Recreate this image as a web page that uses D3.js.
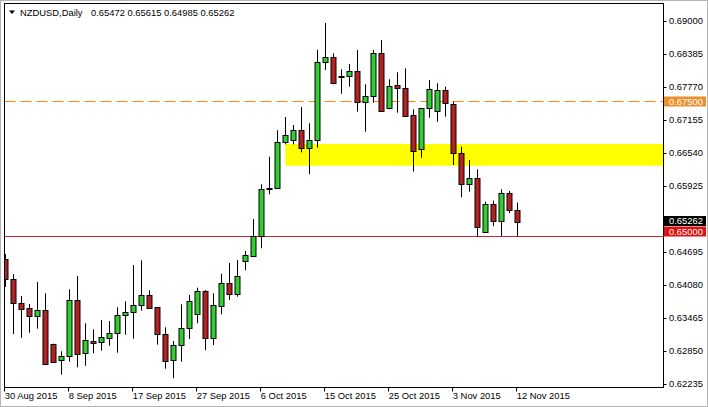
<!DOCTYPE html>
<html>
<head>
<meta charset="utf-8">
<script src="https://cdn.jsdelivr.net/npm/d3@7"></script>
<style>
  body { margin: 0; background: #fff; }
  svg { display: block; }
  text { font-family: "Liberation Sans", Arial, sans-serif; font-size: 9.4px; fill: #000; }
</style>
</head>
<body>
<script>
// NZDUSD daily bars, 30 Aug - 12 Nov 2015 (broker has Sunday bars)
var dates = [
  "2015-08-30","2015-08-31","2015-09-01","2015-09-02","2015-09-03","2015-09-04",
  "2015-09-06","2015-09-07","2015-09-08","2015-09-09","2015-09-10","2015-09-11",
  "2015-09-13","2015-09-14","2015-09-15","2015-09-16","2015-09-17","2015-09-18",
  "2015-09-20","2015-09-21","2015-09-22","2015-09-23","2015-09-24","2015-09-25",
  "2015-09-27","2015-09-28","2015-09-29","2015-09-30","2015-10-01","2015-10-02",
  "2015-10-04","2015-10-05","2015-10-06","2015-10-07","2015-10-08","2015-10-09",
  "2015-10-11","2015-10-12","2015-10-13","2015-10-14","2015-10-15","2015-10-16",
  "2015-10-18","2015-10-19","2015-10-20","2015-10-21","2015-10-22","2015-10-23",
  "2015-10-25","2015-10-26","2015-10-27","2015-10-28","2015-10-29","2015-10-30",
  "2015-11-01","2015-11-02","2015-11-03","2015-11-04","2015-11-05","2015-11-06",
  "2015-11-08","2015-11-09","2015-11-10","2015-11-11","2015-11-12"
];

var opens = [
  0.64559,0.64186,0.63739,0.63646,0.63508,0.63609,0.62975,0.62677,0.62751,0.63795,
  0.62807,0.63036,0.63012,0.63098,0.63180,0.63515,0.63571,0.63702,0.63888,0.63664,
  0.63161,0.62677,0.62962,0.63273,0.63534,0.63968,0.63087,0.63694,0.64117,0.63907,
  0.64533,0.64626,0.65000,0.65882,0.65882,0.66739,0.66777,0.66963,0.66628,0.66777,
  0.68230,0.68324,0.67969,0.67969,0.68063,0.67485,0.67608,0.68398,0.67384,0.67802,
  0.67746,0.67243,0.66609,0.67373,0.67317,0.67709,0.67448,0.66534,0.65957,0.66069,
  0.65062,0.65590,0.65278,0.65789,0.65472
];
var highs = [
  0.64658,0.64285,0.63875,0.63726,0.64136,0.63925,0.62986,0.62845,0.64000,0.64248,
  0.63366,0.63254,0.63428,0.63409,0.63664,0.63776,0.64453,0.64540,0.63981,0.63670,
  0.63292,0.63036,0.63720,0.63894,0.64030,0.63987,0.63925,0.64291,0.64490,0.64546,
  0.64714,0.65310,0.65957,0.66471,0.66963,0.67211,0.67062,0.67397,0.67094,0.68465,
  0.68963,0.68398,0.68100,0.68199,0.68460,0.67820,0.68460,0.68646,0.67914,0.68044,
  0.68119,0.67354,0.67380,0.67900,0.67839,0.67776,0.67496,0.66657,0.66410,0.66236,
  0.65632,0.65651,0.65864,0.65832,0.65615
];
var lows = [
  0.64043,0.63167,0.63098,0.63191,0.63266,0.62590,0.62626,0.62408,0.62651,0.62546,
  0.62576,0.62807,0.62856,0.62949,0.62818,0.63154,0.63079,0.63601,0.63640,0.62968,
  0.62520,0.62341,0.62651,0.63074,0.63366,0.62863,0.62962,0.63534,0.63801,0.63862,
  0.64354,0.64620,0.64764,0.65770,0.65869,0.66702,0.66702,0.66553,0.66143,0.66639,
  0.68087,0.67820,0.67645,0.67776,0.67310,0.66937,0.67477,0.67310,0.67354,0.67291,
  0.67217,0.66192,0.66452,0.67198,0.67123,0.67217,0.66316,0.65714,0.65819,0.64980,
  0.65062,0.65180,0.64993,0.65416,0.64985
];
var closes = [
  0.64186,0.63739,0.63638,0.63508,0.63609,0.62602,0.62651,0.62751,0.63795,0.62800,
  0.63055,0.62994,0.63105,0.63180,0.63515,0.63577,0.63702,0.63888,0.63646,0.63161,
  0.62658,0.62956,0.63273,0.63782,0.63968,0.63087,0.63707,0.64117,0.63907,0.64248,
  0.64639,0.64999,0.65869,0.65875,0.66739,0.66870,0.66963,0.66628,0.66777,0.68230,
  0.68335,0.67850,0.67960,0.68063,0.67485,0.67608,0.68398,0.67328,0.67794,0.67757,
  0.67230,0.66583,0.67373,0.67727,0.67709,0.67472,0.66534,0.65957,0.66069,0.65155,
  0.65590,0.65278,0.65789,0.65478,0.65262
];

var priceTicks = [0.69000,0.68385,0.67770,0.67155,0.66540,0.65925,0.64695,0.64080,0.63465,0.62850,0.62235];
var dateTickAt = ["2015-08-30","2015-09-08","2015-09-17","2015-09-27","2015-10-06","2015-10-15","2015-10-25","2015-11-03","2015-11-12"];
var dateTickLabels = ["30 Aug 2015","8 Sep 2015","17 Sep 2015","27 Sep 2015","6 Oct 2015","15 Oct 2015","25 Oct 2015","3 Nov 2015","12 Nov 2015"];

var resistance = 0.67500;
var support = 0.65000;
var lastPrice = 0.65262;
var zoneTop = 0.66708, zoneBottom = 0.66303, zoneStart = "2015-10-09";
var header = "NZDUSD,Daily";
var headerValues = "0.65472 0.65615 0.64985 0.65262";

var W = 708, H = 407;
var plotL = 4.5, plotR = 663.5, plotT = 3.5, plotB = 387.5;

var bars = dates.map(function (d, i) {
  return { date: d, o: opens[i], h: highs[i], l: lows[i], c: closes[i] };
});

var x = d3.scalePoint().domain(dates).range([5.3, 517.3]);
var y = d3.scaleLinear().domain([0.62235, 0.69]).range([384, 21]);
var snap = function (v) { return Math.round(v) + 0.5; };

var svg = d3.select("body").append("svg")
    .attr("width", W)
    .attr("height", H);

svg.append("rect")
    .attr("width", W).attr("height", H)
    .attr("fill", "#fff");

svg.append("defs").append("clipPath").attr("id", "plot")
  .append("rect")
    .attr("x", plotL).attr("y", plotT)
    .attr("width", plotR - plotL).attr("height", plotB - plotT);

var plot = svg.append("g").attr("clip-path", "url(#plot)");

// yellow zone, runs off the right edge
plot.append("rect")
    .attr("x", x(zoneStart))
    .attr("y", y(zoneTop))
    .attr("width", plotR - x(zoneStart))
    .attr("height", y(zoneBottom) - y(zoneTop))
    .attr("fill", "#ffff00");

plot.append("line")
    .attr("x1", plotL).attr("x2", plotR)
    .attr("y1", snap(y(resistance))).attr("y2", snap(y(resistance)))
    .attr("stroke", "#ff8800")
    .attr("stroke-width", 1.2)
    .attr("stroke-dasharray", "11,5");

plot.append("line")
    .attr("x1", plotL).attr("x2", plotR)
    .attr("y1", snap(y(support))).attr("y2", snap(y(support)))
    .attr("stroke", "#c8282d");

var candle = plot.selectAll("g.candle")
    .data(bars)
  .enter().append("g")
    .attr("class", "candle");

candle.append("line")
    .attr("x1", function (d) { return snap(x(d.date)); })
    .attr("x2", function (d) { return snap(x(d.date)); })
    .attr("y1", function (d) { return y(d.h); })
    .attr("y2", function (d) { return y(d.l); })
    .attr("stroke", "#000");

candle.append("rect")
    .attr("x", function (d) { return snap(x(d.date)) - 2.5; })
    .attr("y", function (d) { return Math.round(y(Math.max(d.o, d.c))) + 0.5; })
    .attr("width", 5)
    .attr("height", function (d) {
      return Math.max(0, Math.round(y(Math.min(d.o, d.c))) - Math.round(y(Math.max(d.o, d.c))));
    })
    .attr("fill", function (d) { return d.c > d.o ? "#33cc33" : "#b22222"; })
    .attr("stroke", "#000");

// frame
svg.append("rect")
    .attr("x", plotL).attr("y", plotT)
    .attr("width", plotR - plotL).attr("height", plotB - plotT)
    .attr("fill", "none")
    .attr("stroke", "#000");

// price axis
var py = svg.append("g");
py.selectAll("line")
    .data(priceTicks)
  .enter().append("line")
    .attr("x1", plotR).attr("x2", plotR + 3)
    .attr("y1", function (d) { return snap(y(d)); })
    .attr("y2", function (d) { return snap(y(d)); })
    .attr("stroke", "#000");
py.selectAll("text")
    .data(priceTicks)
  .enter().append("text")
    .attr("x", 669)
    .attr("y", function (d) { return y(d) + 3.3; })
    .text(function (d) { return d.toFixed(5); });

// price tags
function tag(value, yc, bg, fg) {
  svg.append("rect")
      .attr("x", 664).attr("y", yc - 5)
      .attr("width", 42).attr("height", 10)
      .attr("fill", bg);
  svg.append("text")
      .attr("x", 669).attr("y", yc + 3.3)
      .style("fill", fg)
      .text(value.toFixed(5));
}
tag(resistance, y(resistance), "#ec8f2c", "#fff");
tag(lastPrice, 221, "#000", "#fff");
tag(support, 231.5, "#e01010", "#fff");

// date axis
var dx = svg.append("g");
dx.selectAll("line")
    .data(dateTickAt)
  .enter().append("line")
    .attr("x1", function (d) { return snap(x(d)) - 1; })
    .attr("x2", function (d) { return snap(x(d)) - 1; })
    .attr("y1", plotB).attr("y2", plotB + 4)
    .attr("stroke", "#000");
dx.selectAll("text")
    .data(dateTickAt)
  .enter().append("text")
    .attr("x", function (d) { return x(d) - 0.5; })
    .attr("y", 399)
    .text(function (d, i) { return dateTickLabels[i]; });

// header
svg.append("path")
    .attr("d", "M9,10.5 L15,10.5 L12,14 Z")
    .attr("fill", "#000");
svg.append("text").attr("x", 20).attr("y", 16).text(header);
svg.append("text").attr("x", 91).attr("y", 16).text(headerValues);

// window border
svg.append("rect")
    .attr("x", 0.5).attr("y", 0.5)
    .attr("width", W - 1).attr("height", H - 1)
    .attr("fill", "none")
    .attr("stroke", "#b4b4b4");
</script>
</body>
</html>
